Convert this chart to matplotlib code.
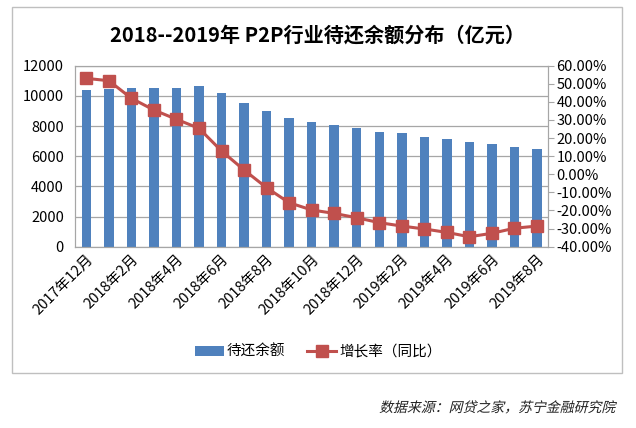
import matplotlib.pyplot as plt
from matplotlib.patches import Rectangle
from matplotlib.ticker import FuncFormatter, MultipleLocator
from matplotlib.patheffects import AbstractPathEffect
from matplotlib.transforms import Affine2D

plt.rcParams['font.family'] = ['Noto Sans CJK SC', 'DejaVu Sans']

# 月份（2017年12月 - 2019年8月）
months = ['2017年12月', '2018年1月', '2018年2月', '2018年3月', '2018年4月',
          '2018年5月', '2018年6月', '2018年7月', '2018年8月', '2018年9月',
          '2018年10月', '2018年11月', '2018年12月', '2019年1月', '2019年2月',
          '2019年3月', '2019年4月', '2019年5月', '2019年6月', '2019年7月',
          '2019年8月']
# 待还余额（亿元）
balance = [10390, 10440, 10500, 10500, 10500, 10680, 10210, 9550, 9000, 8510,
           8290, 8100, 7850, 7630, 7520, 7300, 7120, 6960, 6790, 6630, 6460]
# 增长率（同比，%）
growth = [53.0, 51.7, 42.0, 35.5, 30.4, 25.4, 12.9, 2.4, -7.4, -15.7,
          -19.7, -21.6, -24.0, -26.7, -28.6, -30.2, -32.1, -34.5, -32.6, -29.8, -28.6]


# 中文字体没有斜体，用错切模拟
class Slant(AbstractPathEffect):
    def draw_path(self, renderer, gc, tpath, affine, rgbFace=None):
        renderer.draw_path(gc, tpath, Affine2D().skew_deg(14, 0) + affine, rgbFace)


fig = plt.figure(figsize=(6.36, 4.28), dpi=100)

# 外框
fig.patches.append(Rectangle((12 / 636, 1 - 373 / 428), 610 / 636, 366 / 428,
                             transform=fig.transFigure, fill=False,
                             edgecolor='#bfbfbf', linewidth=1.0))

ax = fig.add_axes([0.118, 0.4236, 0.744, 0.4229])
x = list(range(len(months)))
bars = ax.bar(x, balance, width=0.42, color='#4f81bd', zorder=2, label='待还余额')
ax.set_ylim(0, 12000)
ax.set_xlim(-0.5, len(months) - 0.5)
ax.yaxis.set_major_locator(MultipleLocator(2000))
ax.grid(axis='y', color='#a6a6a6', linewidth=0.9, zorder=0)
ax.tick_params(axis='y', length=0, labelsize=10.5, pad=8)
ax.set_xticks(x[::2])
ax.set_xticklabels(months[::2], rotation=45, ha='right', rotation_mode='anchor', fontsize=10.5)
ax.tick_params(axis='x', length=0, pad=4)
for s in ax.spines.values():
    s.set_color('#a6a6a6')

ax2 = ax.twinx()
line, = ax2.plot(x, growth, color='#c0504d', linewidth=2.2, marker='s', markersize=9,
                 zorder=3, label='增长率（同比）')
ax2.set_ylim(-40, 60)
ax2.yaxis.set_major_locator(MultipleLocator(10))
ax2.yaxis.set_major_formatter(FuncFormatter(lambda v, p: '%.2f%%' % v))
ax2.tick_params(axis='y', length=4, color='#a6a6a6', labelsize=10.5, pad=2)
for s in ax2.spines.values():
    s.set_color('#a6a6a6')

fig.text(0.5, 1 - 35 / 428, '2018--2019年 P2P行业待还余额分布（亿元）',
         ha='center', va='center', fontsize=14.5, fontweight='bold')

fig.legend([bars, line], ['待还余额', '增长率（同比）'], loc='center',
           bbox_to_anchor=(0.5, 1 - 352 / 428), ncol=2, frameon=False,
           fontsize=10.5, handlelength=2.0, columnspacing=1.5, handletextpad=0.2)

src = fig.text(615 / 636, 1 - 408 / 428, '数据来源：网贷之家，苏宁金融研究院',
               ha='right', va='center', fontsize=10, color='#222222')
src.set_path_effects([Slant()])

plt.savefig('out.png', dpi=100)
